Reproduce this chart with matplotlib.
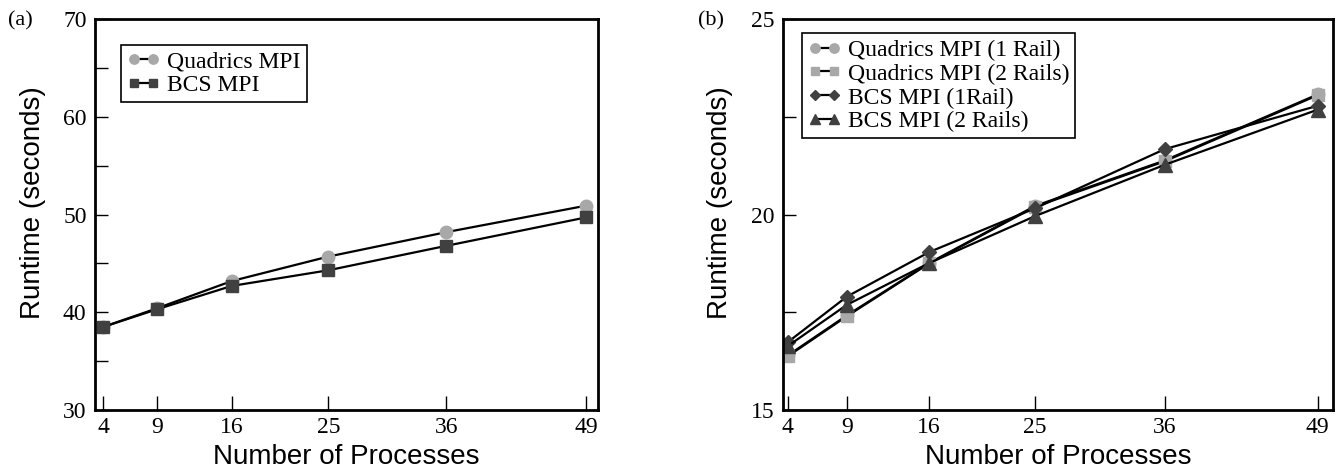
import numpy as np
import matplotlib.pyplot as plt
from matplotlib.ticker import MultipleLocator

# data
procs = [4, 9, 16, 25, 36, 49]

# panel (a)
quadrics_a = [38.5, 40.4, 43.2, 45.7, 48.2, 50.9]
bcs_a = [38.5, 40.3, 42.7, 44.3, 46.8, 49.7]

# panel (b)
quadrics_1rail = [16.40, 17.42, 18.76, 20.22, 21.38, 23.07]
quadrics_2rails = [16.38, 17.40, 18.75, 20.20, 21.36, 23.05]
bcs_1rail = [16.74, 17.90, 19.04, 20.16, 21.67, 22.78]
bcs_2rails = [16.64, 17.69, 18.76, 19.96, 21.27, 22.68]

light = '#a8a8a8'
dark = '#404040'
serif = 'Liberation Serif'
sans = 'Liberation Sans'

fig = plt.figure(figsize=(13.37, 4.72), dpi=100)
ax1 = fig.add_axes([0.071, 0.131, 0.376, 0.829])
ax2 = fig.add_axes([0.5856, 0.131, 0.4114, 0.829])


def style_axis(ax, ylim, major, minor, xlim, ylab_x):
    ax.set_xlim(*xlim)
    ax.set_ylim(*ylim)
    ax.set_xticks(procs)
    ax.yaxis.set_major_locator(MultipleLocator(major))
    ax.yaxis.set_minor_locator(MultipleLocator(minor))
    ax.tick_params(axis='both', which='both', direction='in', top=False, right=False)
    ax.tick_params(axis='x', which='major', length=10, width=1, pad=5, labelsize=17)
    ax.tick_params(axis='y', which='major', length=9, width=1, pad=6, labelsize=17)
    ax.tick_params(axis='y', which='minor', length=9, width=1)
    for lab in ax.get_xticklabels() + ax.get_yticklabels():
        lab.set_fontfamily(serif)
    for s in ax.spines.values():
        s.set_linewidth(2)
    ax.set_xlabel('Number of Processes', fontfamily=sans, fontsize=20, labelpad=4)
    ax.set_ylabel('Runtime (seconds)', fontfamily=sans, fontsize=20)
    ax.yaxis.set_label_coords(ylab_x, 0.53)


leg_kw = dict(loc='upper left', prop={'family': serif, 'size': 17}, numpoints=2,
              handlelength=1.4, handletextpad=0.3, borderpad=0.25, labelspacing=0.1,
              markerscale=0.75, fancybox=False, edgecolor='black', framealpha=1)

# (a)
ax1.plot(procs, quadrics_a, '-o', color='black', lw=1.6, ms=9, mfc=light, mec=light, label='Quadrics MPI')
ax1.plot(procs, bcs_a, '-s', color='black', lw=1.6, ms=8.5, mfc=dark, mec=dark, label='BCS MPI')
style_axis(ax1, (30, 70), 10, 5, (3.25, 50.1), -0.098)
leg = ax1.legend(bbox_to_anchor=(0.029, 0.963), **leg_kw)
leg.get_frame().set_linewidth(1.2)

# (b)
ax2.plot(procs, quadrics_1rail, '-o', color='black', lw=1.6, ms=9, mfc=light, mec=light, label='Quadrics MPI (1 Rail)')
ax2.plot(procs, quadrics_2rails, '-s', color='black', lw=1.6, ms=8.5, mfc=light, mec=light, label='Quadrics MPI (2 Rails)')
ax2.plot(procs, bcs_1rail, '-D', color='black', lw=1.6, ms=7, mfc=dark, mec=dark, label='BCS MPI (1Rail)')
ax2.plot(procs, bcs_2rails, '-^', color='black', lw=1.6, ms=9.5, mfc=dark, mec=dark, label='BCS MPI (2 Rails)')
style_axis(ax2, (15, 25), 5, 2.5, (3.58, 50.3), -0.091)
leg = ax2.legend(bbox_to_anchor=(0.013, 0.993), **leg_kw)
leg.get_frame().set_linewidth(1.2)

fig.text(0.006, 0.955, '(a)', fontfamily=serif, fontsize=16, va='center')
fig.text(0.522, 0.955, '(b)', fontfamily=serif, fontsize=16, va='center')

plt.savefig('out.png', dpi=100)
